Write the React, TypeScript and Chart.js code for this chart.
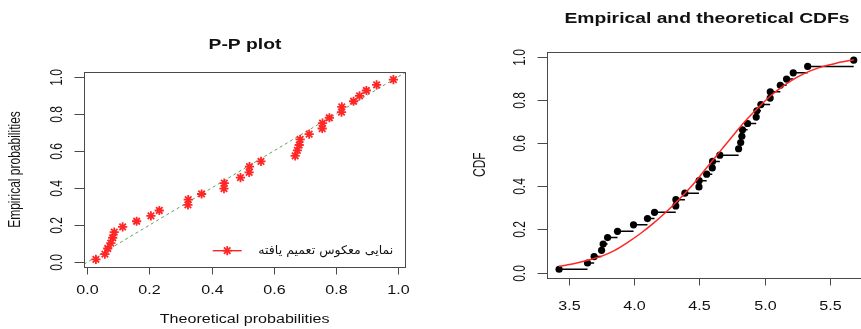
import React, { useEffect, useRef } from 'react';
import { Chart, registerables } from 'chart.js';

Chart.register(...registerables);

// ---------- data ----------
const SAMPLE_X = [
  3.423, 3.641, 3.692, 3.749, 3.761, 3.795, 3.871, 3.994, 4.101, 4.155,
  4.318, 4.319, 4.388, 4.496, 4.497, 4.555, 4.598, 4.600, 4.656, 4.800,
  4.816, 4.825, 4.830, 4.869, 4.935, 4.940, 4.971, 5.042, 5.043, 5.120,
  5.168, 5.219, 5.330, 5.683,
];
const EMPIRICAL_P = [
  0.015, 0.044, 0.074, 0.103, 0.132, 0.162, 0.191, 0.221, 0.250, 0.279,
  0.309, 0.338, 0.368, 0.397, 0.426, 0.456, 0.485, 0.515, 0.544, 0.574,
  0.603, 0.632, 0.662, 0.691, 0.721, 0.750, 0.779, 0.809, 0.838, 0.868,
  0.897, 0.926, 0.956, 0.985,
];
const THEORETICAL_P = [
  0.028, 0.057, 0.066, 0.076, 0.082, 0.087, 0.114, 0.159, 0.205, 0.232,
  0.324, 0.325, 0.368, 0.440, 0.441, 0.493, 0.521, 0.522, 0.559, 0.669,
  0.676, 0.682, 0.685, 0.714, 0.756, 0.757, 0.779, 0.818, 0.819, 0.857,
  0.876, 0.898, 0.931, 0.985,
];
const CURVE_X = [
  3.42, 3.55, 3.65, 3.75, 3.85, 3.95, 4.05, 4.15, 4.25, 4.35, 4.45, 4.55,
  4.65, 4.75, 4.85, 4.95, 5.05, 5.15, 5.25, 5.35, 5.45, 5.55, 5.685,
];
const CURVE_Y = [
  0.028, 0.043, 0.058, 0.076, 0.103, 0.140, 0.182, 0.230, 0.284, 0.343, 0.408, 0.482,
  0.556, 0.630, 0.702, 0.764, 0.822, 0.868, 0.906, 0.935, 0.956, 0.971, 0.987,
];
const PP_TICKS = [0, 0.2, 0.4, 0.6, 0.8, 1.0];
const CDF_X_TICKS = [3.5, 4.0, 4.5, 5.0, 5.5];
const CDF_Y_TICKS = [0, 0.2, 0.4, 0.6, 0.8, 1.0];
const PP_X_LIMITS = [-0.0103, 1.0233];
const PROB_LIMITS = [-0.0241, 1.0241];
const CDF_X_LIMITS = [3.3326, 5.7734];

const PP_TITLE = 'P-P plot';
const CDF_TITLE = 'Empirical and theoretical CDFs';
const PP_XLABEL = 'Theoretical probabilities';
const PP_YLABEL = 'Empirical probabilities';
const CDF_YLABEL = 'CDF';
const LEGEND_LABEL = 'نمایی معکوس تعمیم یافته';

// ---------- drawing helpers ----------
const W = 880;
const H = 329;
const STRETCH = 1.34;
const FONT = '12px "Liberation Sans", Arial, "DejaVu Sans", sans-serif';
const TITLE_FONT = 'bold 14.4px "Liberation Sans", Arial, sans-serif';
const RED = 'rgb(255,38,38)';

function drawText(
  ctx: CanvasRenderingContext2D, s: string, x: number, y: number, font: string,
  align: CanvasTextAlign, rot = 0, stretch = STRETCH, baseline: CanvasTextBaseline = 'alphabetic',
) {
  ctx.save();
  ctx.translate(x, y);
  ctx.scale(stretch, 1);
  if (rot) ctx.rotate(rot);
  ctx.font = font;
  ctx.fillStyle = '#111';
  ctx.textAlign = align;
  ctx.textBaseline = baseline;
  ctx.fillText(s, 0, 0);
  ctx.restore();
}

function seg(ctx: CanvasRenderingContext2D, x1: number, y1: number, x2: number, y2: number) {
  ctx.beginPath();
  ctx.moveTo(x1, y1);
  ctx.lineTo(x2, y2);
  ctx.stroke();
}

type Spec = {
  key: string;
  title: string; titleX: number; titleY: number;
  xTicks: number[]; xLabelY: number;
  yTicks: number[]; yLabelX: number;
  xlabel?: string; xlabelY?: number;
  ylabel: string; ylabelX: number;
  legend?: boolean;
};

function rAxes(spec: Spec) {
  return {
    id: 'rAxes' + spec.key,
    afterDatasetsDraw(chart: any) {
      const { ctx, chartArea: a, scales } = chart;
      const xs = scales.x;
      const ys = scales.y;
      const L = Math.round(a.left) + 0.5;
      const T = Math.round(a.top) + 0.5;
      const R = Math.round(a.right) + 0.5;
      const B = Math.round(a.bottom) + 0.5;
      ctx.save();
      ctx.strokeStyle = '#4a4a4a';
      ctx.lineWidth = 1;
      ctx.strokeRect(L, T, R - L, B - T);
      spec.xTicks.forEach((v) => {
        const px = Math.round(xs.getPixelForValue(v)) + 0.5;
        seg(ctx, px, B, px, B + 7);
        drawText(ctx, v.toFixed(1), px, spec.xLabelY, FONT, 'center');
      });
      spec.yTicks.forEach((v) => {
        const py = Math.round(ys.getPixelForValue(v)) + 0.5;
        seg(ctx, L, py, L - 10, py);
        drawText(ctx, v.toFixed(1), spec.yLabelX, py, FONT, 'center', -Math.PI / 2);
      });
      drawText(ctx, spec.title, spec.titleX, spec.titleY, TITLE_FONT, 'center');
      if (spec.xlabel) drawText(ctx, spec.xlabel, (a.left + a.right) / 2, spec.xlabelY!, FONT, 'center');
      drawText(ctx, spec.ylabel, spec.ylabelX, (a.top + a.bottom) / 2, FONT, 'center', -Math.PI / 2);

      if (spec.legend) {
        const ly = 250.7;
        ctx.strokeStyle = RED;
        ctx.lineWidth = 1.4;
        seg(ctx, 212.7, ly, 241.7, ly);
        const cx = 227.2;
        const r = 4.6;
        const d = r * Math.SQRT1_2;
        ctx.lineWidth = 1.8;
        seg(ctx, cx - r, ly, cx + r, ly);
        seg(ctx, cx, ly - r, cx, ly + r);
        seg(ctx, cx - d, ly - d, cx + d, ly + d);
        seg(ctx, cx - d, ly + d, cx + d, ly - d);
        const lf = '12px "DejaVu Sans", "Liberation Sans", sans-serif';
        ctx.font = lf;
        const w = ctx.measureText(LEGEND_LABEL).width || 135;
        drawText(ctx, LEGEND_LABEL, 258.3, 251, lf, 'left', 0, 135 / w, 'middle');
      }
      ctx.restore();
    },
  };
}

function baseOptions(xLim: number[], yLim: number[], padding: any) {
  return {
    responsive: false,
    animation: false as const,
    devicePixelRatio: 1,
    layout: { padding },
    plugins: { legend: { display: false }, tooltip: { enabled: false }, title: { display: false } },
    events: [] as any[],
    scales: {
      x: { type: 'linear' as const, display: false, min: xLim[0], max: xLim[1] },
      y: { type: 'linear' as const, display: false, min: yLim[0], max: yLim[1] },
    },
  };
}

export default function App() {
  const leftRef = useRef<HTMLCanvasElement>(null);
  const rightRef = useRef<HTMLCanvasElement>(null);

  useEffect(() => {
    const ppPoints = THEORETICAL_P.map((x, i) => ({ x, y: EMPIRICAL_P[i] }));
    const ppChart = new Chart(leftRef.current!, {
      type: 'scatter',
      data: {
        datasets: [
          {
            data: ppPoints,
            pointStyle: 'star',
            pointRadius: 4.6,
            pointBorderWidth: 1.8,
            borderColor: RED,
            pointBorderColor: RED,
            backgroundColor: RED,
            showLine: false,
          },
          {
            data: [
              { x: PP_X_LIMITS[0], y: PP_X_LIMITS[0] },
              { x: PP_X_LIMITS[1], y: PP_X_LIMITS[1] },
            ],
            showLine: true,
            pointRadius: 0,
            borderColor: 'rgb(95,160,95)',
            borderWidth: 1,
            borderDash: [3, 3],
          },
        ],
      },
      options: baseOptions(PP_X_LIMITS, PROB_LIMITS, {
        left: 84, top: 72.3, right: W - 405.3, bottom: H - 266.7,
      }),
      plugins: [rAxes({
        key: 'pp',
        title: PP_TITLE, titleX: 245, titleY: 49.3,
        xTicks: PP_TICKS, xLabelY: 293.5,
        yTicks: PP_TICKS, yLabelX: 61.5,
        xlabel: PP_XLABEL, xlabelY: 322.5,
        ylabel: PP_YLABEL, ylabelX: 20,
        legend: true,
      })],
    } as any);

    const steps: any[] = [];
    for (let i = 0; i < SAMPLE_X.length - 1; i++) {
      steps.push({ x: SAMPLE_X[i], y: EMPIRICAL_P[i] });
      steps.push({ x: SAMPLE_X[i + 1], y: EMPIRICAL_P[i] });
      steps.push({ x: SAMPLE_X[i + 1], y: null });
    }
    const cdfChart = new Chart(rightRef.current!, {
      type: 'scatter',
      data: {
        datasets: [
          {
            data: CURVE_X.map((x, i) => ({ x, y: CURVE_Y[i] })),
            showLine: true,
            pointRadius: 0,
            borderColor: RED,
            borderWidth: 1.5,
            cubicInterpolationMode: 'monotone',
          },
          {
            data: SAMPLE_X.map((x, i) => ({ x, y: EMPIRICAL_P[i] })),
            pointRadius: 3.6,
            pointBorderWidth: 0,
            backgroundColor: '#000',
            pointBackgroundColor: '#000',
            showLine: false,
          },
          {
            data: steps,
            showLine: true,
            spanGaps: false,
            pointRadius: 0,
            borderColor: '#000',
            borderWidth: 1.5,
          },
        ],
      },
      options: baseOptions(CDF_X_LIMITS, PROB_LIMITS, {
        left: 547.3, top: 51.7, right: W - 865.5, bottom: H - 277.7,
      }),
      plugins: [rAxes({
        key: 'cdf',
        title: CDF_TITLE, titleX: 707, titleY: 23.3,
        xTicks: CDF_X_TICKS, xLabelY: 309.5,
        yTicks: CDF_Y_TICKS, yLabelX: 524.5,
        ylabel: CDF_YLABEL, ylabelX: 484.5,
      })],
    } as any);

    return () => {
      ppChart.destroy();
      cdfChart.destroy();
    };
  }, []);

  const canvasStyle: React.CSSProperties = {
    position: 'absolute', left: 0, top: 0, width: W, height: H, display: 'block',
  };
  return (
    <div style={{
      position: 'absolute', left: 0, top: 0, width: 861, height: 329,
      overflow: 'hidden', background: '#fff',
    }}>
      <canvas ref={leftRef} width={W} height={H} style={canvasStyle} />
      <canvas ref={rightRef} width={W} height={H} style={canvasStyle} />
    </div>
  );
}
